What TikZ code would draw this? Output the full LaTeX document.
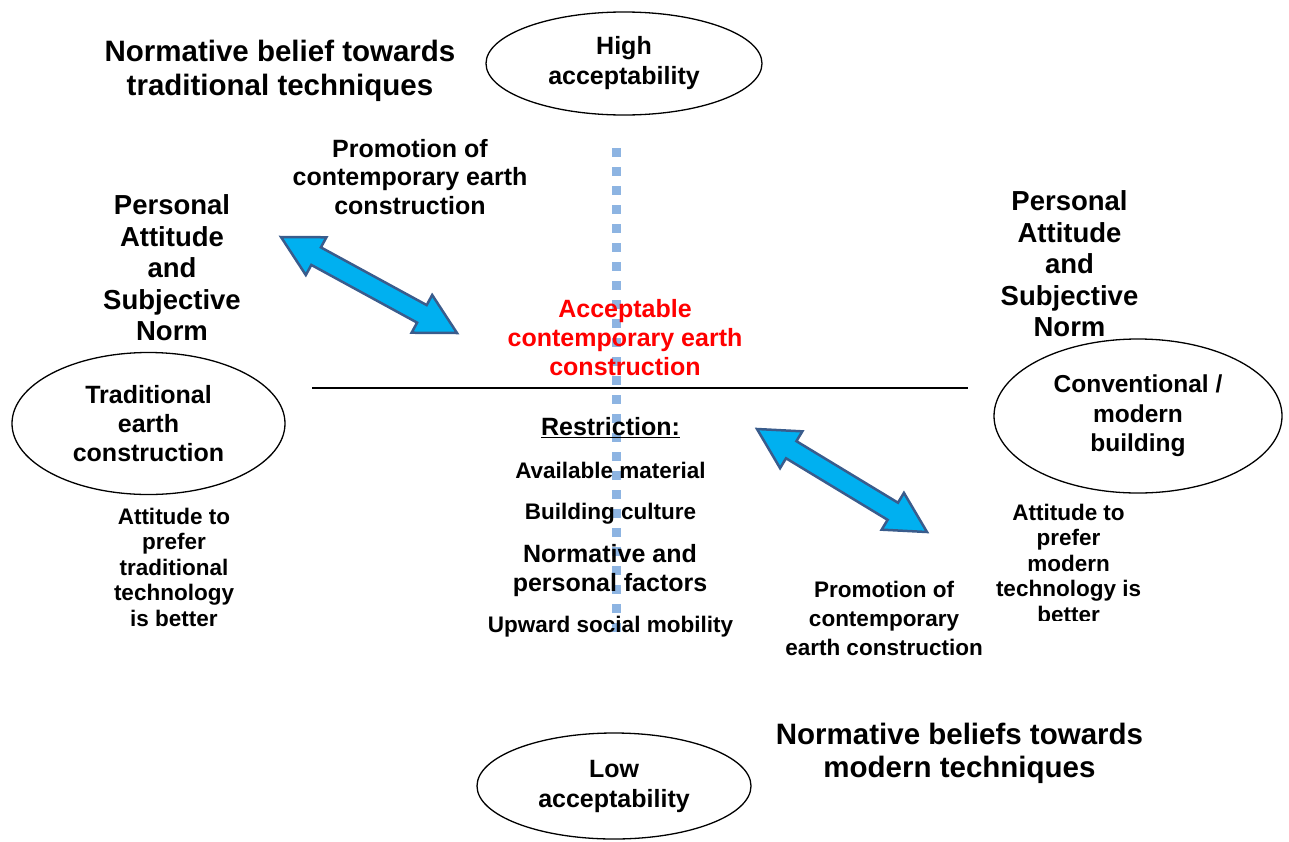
\documentclass[tikz,border=0pt]{standalone}
\usepackage{fontspec}
\setmainfont{Liberation Sans}
\usetikzlibrary{calc,shapes.geometric}

\definecolor{arrowfill}{RGB}{0,176,240}
\definecolor{arrowedge}{RGB}{58,92,140}
\definecolor{axisblue}{RGB}{141,180,226}

% font size with leading, bold
\newcommand\fsz[2]{\fontsize{#1}{#2}\selectfont\bfseries}

% double-headed block arrow between two named coordinates
\newcommand\dblblockarrow[2]{%
  \draw[barrow]
    (#1)
    -- ($(#1)!40pt!(#2)!21.5pt!90:(#2)$)
    -- ($(#1)!40pt!(#2)!10pt!90:(#2)$)
    -- ($(#2)!40pt!(#1)!10pt!-90:(#1)$)
    -- ($(#2)!40pt!(#1)!21.5pt!-90:(#1)$)
    -- (#2)
    -- ($(#2)!40pt!(#1)!21.5pt!90:(#1)$)
    -- ($(#2)!40pt!(#1)!10pt!90:(#1)$)
    -- ($(#1)!40pt!(#2)!10pt!-90:(#2)$)
    -- ($(#1)!40pt!(#2)!21.5pt!-90:(#2)$)
    -- cycle;}

\tikzset{
  lbl/.style={align=center, inner sep=0pt, text=black},
  oval/.style={ellipse, draw=black, line width=1.3pt, inner sep=0pt, align=center},
  barrow/.style={fill=arrowfill, draw=arrowedge, line width=2.5pt, line join=miter},
}

\begin{document}
\begin{tikzpicture}[x=1pt, y=-1pt]
\useasboundingbox (0,0) rectangle (1289,841);

% vertical acceptability axis (dotted) and horizontal divider
\coordinate (axtop) at (616.5,148);
\coordinate (axbot) at (616.5,636);
\draw[axisblue, line width=9pt, dash pattern=on 9pt off 10pt] (axtop) -- (axbot);
\coordinate (hl) at (312,388);
\coordinate (hr) at (968,388);
\draw[black, line width=1.4pt] (hl) -- (hr);

% poles of the vertical axis
\node[oval, minimum width=276, minimum height=103, font=\fsz{25}{30}] (high) at (624,63.5)
  {High\\acceptability};
\node[oval, minimum width=274, minimum height=106, font=\fsz{25}{30}] (low) at (614,786)
  {Low\\acceptability};

% poles of the horizontal axis
\node[oval, minimum width=273, minimum height=142, font=\fsz{25}{29}] (trad) at (148.5,423.5)
  {Traditional\\earth\\construction};
\node[oval, minimum width=288, minimum height=154, font=\fsz{24.5}{29.5}] (conv) at (1138,416)
  {Conventional /\\modern\\building};

% quadrant headings
\node[lbl, font=\fsz{29.5}{34}] (normtrad) at (280,70.5) {Normative belief towards\\traditional techniques};
\node[lbl, font=\fsz{29.5}{33}] (normmod) at (959.5,753.5) {Normative beliefs towards\\modern techniques};

\node[lbl, font=\fsz{27.5}{31.5}] (pasl) at (172,268) {Personal\\Attitude\\and\\Subjective\\Norm};
\node[lbl, font=\fsz{27.5}{31.5}] (pasr) at (1069.5,264) {Personal\\Attitude\\and\\Subjective\\Norm};

\node[lbl, font=\fsz{25}{28.5}] (promtop) at (410,177) {Promotion of\\contemporary earth\\construction};
\node[lbl, font=\fsz{22.5}{29}] (prombot) at (884,618) {Promotion of\\contemporary\\earth construction};

% centre: acceptable zone and restrictions
\node[lbl, text=red, font=\fsz{25}{29}] (accept) at (625,338) {Acceptable\\contemporary earth\\construction};

\node[lbl, font=\fsz{25}{30}] (restr) at (610.5,428) {\underline{Restriction:}};
\node[lbl, font=\fsz{22.5}{27}] (r1) at (610.5,470) {Available material};
\node[lbl, font=\fsz{22.5}{27}] (r2) at (610.5,514) {Building culture};
\node[lbl, font=\fsz{25}{29}] (r3) at (610,570.5) {Normative and\\personal factors};
\node[lbl, font=\fsz{22.5}{27}] (r4) at (610.5,627) {Upward social mobility};

% attitudes under each pole
\node[lbl, font=\fsz{22.5}{25.5}] (atttrad) at (174,567) {Attitude to\\prefer\\traditional\\technology\\is better};
\begin{scope}
  \clip (985,490) rectangle (1160,620.5);
  \node[lbl, font=\fsz{22.5}{25.5}] (attmod) at (1068.5,563) {Attitude to\\prefer\\modern\\technology is\\better};
\end{scope}

% promotion arrows
\coordinate (a1s) at (281,237);
\coordinate (a1e) at (457,333);
\coordinate (a2s) at (757,429);
\coordinate (a2e) at (927,532);
\dblblockarrow{a1s}{a1e}
\dblblockarrow{a2s}{a2e}

\end{tikzpicture}
\end{document}
